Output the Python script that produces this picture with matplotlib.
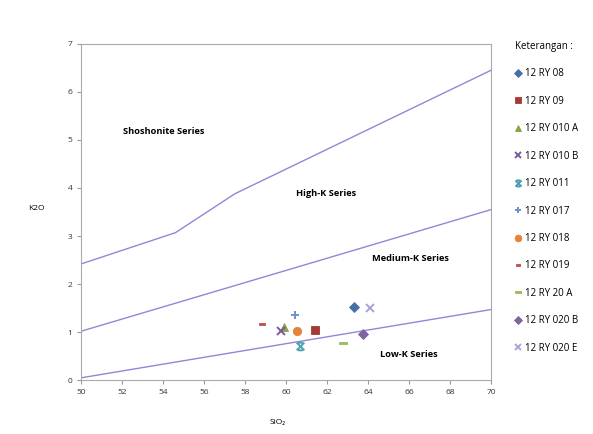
import matplotlib
matplotlib.use("Agg")
import matplotlib.pyplot as plt
from matplotlib.path import Path

# sample names and measured values
samples = ["12 RY 08", "12 RY 09", "12 RY 010 A", "12 RY 010 B", "12 RY 011", "12 RY 017",
           "12 RY 018", "12 RY 019", "12 RY 20 A", "12 RY 020 B", "12 RY 020 E"]
sio2 = [63.3, 61.4, 59.9, 59.75, 60.7, 60.45, 60.55, 58.8, 62.8, 63.75, 64.1]
k2o = [1.52, 1.04, 1.1, 1.02, 0.71, 1.35, 1.02, 1.17, 0.77, 0.96, 1.5]

# series boundary lines
low_x = [50, 70]
low_y = [0.05, 1.47]
med_x = [50, 70]
med_y = [1.02, 3.55]
high_x = [50, 54.6, 57.5, 70]
high_y = [2.42, 3.07, 3.88, 6.45]

# marker styles (Excel-like)
bar = Path([(-1, -0.35), (1, -0.35), (1, 0.35), (-1, 0.35), (-1, -0.35)],
           [Path.MOVETO, Path.LINETO, Path.LINETO, Path.LINETO, Path.CLOSEPOLY])
star = Path([(-1, -1), (1, 1), (-1, 1), (1, -1), (-0.6, 1), (0.6, 1), (-0.6, -1), (0.6, -1)],
            [Path.MOVETO, Path.LINETO, Path.MOVETO, Path.LINETO,
             Path.MOVETO, Path.LINETO, Path.MOVETO, Path.LINETO])
markers = ["D", "s", "^", "x", star, "+", "o", bar, bar, "D", "x"]
colors = ["#4a6fa5", "#a33b36", "#86a34a", "#7a5a9a", "#4aa0b0", "#6f8fd0",
          "#e58338", "#c0504d", "#9bbb59", "#8064a2", "#a6a6d8"]
sizes = [5, 6, 6, 5.5, 5.5, 5.5, 6, 4, 6, 5, 6]

plt.rcParams["font.family"] = ["Open Sans", "DejaVu Sans"]
fig = plt.figure(figsize=(5.93, 4.34), dpi=100)
ax = fig.add_axes([0.137, 0.124, 0.691, 0.775])

line_c = "#8f88d6"
ax.plot(low_x, low_y, color=line_c, lw=1)
ax.plot(med_x, med_y, color=line_c, lw=1)
ax.plot(high_x, high_y, color=line_c, lw=1)

for s, x, y, m, c, ms in zip(samples, sio2, k2o, markers, colors, sizes):
    lined = m in ("x", "+") or m is star
    ax.plot(x, y, linestyle="none", marker=m, color=c, markersize=ms,
            markerfacecolor="none" if lined else c,
            markeredgewidth=1.4 if lined else 0.6, label=s)

ax.text(52.05, 5.17, "Shoshonite Series", fontsize=6.7, fontweight="bold", va="center")
ax.text(60.5, 3.88, "High-K Series", fontsize=6.7, fontweight="bold", va="center")
ax.text(64.2, 2.54, "Medium-K Series", fontsize=6.7, fontweight="bold", va="center")
ax.text(64.6, 0.54, "Low-K Series", fontsize=6.7, fontweight="bold", va="center")

ax.set_xlim(50, 70)
ax.set_ylim(0, 7)
ax.set_xticks(range(50, 71, 2))
ax.set_yticks(range(0, 8))
ax.tick_params(labelsize=6, length=3, color="#999999", labelcolor="#333333")
for sp in ax.spines.values():
    sp.set_color("#aaaaaa")
ax.set_xlabel("SiO\u2082", fontsize=6)
ax.xaxis.set_label_coords(0.48, -0.115)
ax.set_ylabel("K2O", fontsize=6, rotation=0, labelpad=22)

leg = ax.legend(loc="upper left", bbox_to_anchor=(1.05, 1.02), frameon=False,
                title="Keterangan :", fontsize=7, title_fontsize=7,
                labelspacing=1.69, handlelength=0.6, handletextpad=0.4, borderaxespad=0,
                markerscale=0.8)
leg._legend_box.align = "left"

fig.savefig("out.png", dpi=100)
